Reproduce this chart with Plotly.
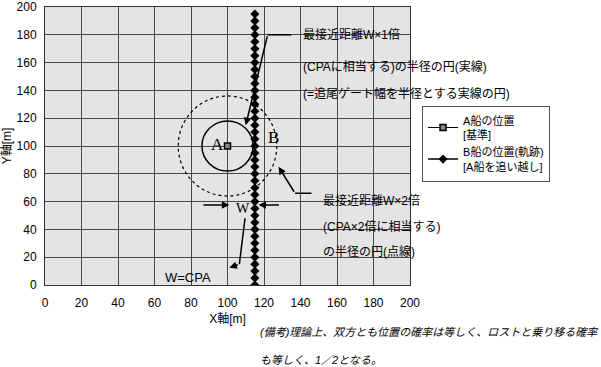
import plotly.graph_objects as go

# Data
a_x = [100]
a_y = [100]
b_x = [115] * 40
b_y = [0, 5, 10, 15, 20, 25, 30, 35, 40, 45, 50, 55, 60, 65, 70, 75, 80, 85, 90, 95,
       100, 105, 110, 115, 120, 125, 130, 135, 140, 145, 150, 155, 160, 165, 170, 175,
       180, 185, 190, 195]
ticks = [0, 20, 40, 60, 80, 100, 120, 140, 160, 180, 200]
circle_center = (100, 100)
solid_r = (14, 18)     # x,y radius in data units (round on paper)
dotted_r = (27, 36)

FONT = "Liberation Sans, Arial, Noto Sans CJK JP, sans-serif"
SERIF = "Liberation Serif, Times New Roman, serif"

fig = go.Figure()
fig.add_trace(go.Scatter(
    x=a_x, y=a_y, mode="lines+markers", name="A船の位置<br>[基準]",
    line=dict(color="black", width=1),
    marker=dict(symbol="square", size=6, color="#888888", line=dict(color="black", width=1.5)),
))
fig.add_trace(go.Scatter(
    x=b_x, y=b_y, mode="lines+markers", name="B船の位置(軌跡)<br>[A船を追い越し]",
    line=dict(color="black", width=1.5),
    marker=dict(symbol="diamond", size=7, color="black"),
))

cx, cy = circle_center
fig.add_shape(type="circle", xref="x", yref="y",
              x0=cx - solid_r[0], x1=cx + solid_r[0], y0=cy - solid_r[1], y1=cy + solid_r[1],
              line=dict(color="black", width=1.5))
fig.add_shape(type="circle", xref="x", yref="y",
              x0=cx - dotted_r[0], x1=cx + dotted_r[0], y0=cy - dotted_r[1], y1=cy + dotted_r[1],
              line=dict(color="black", width=1.2, dash="dot"))

# leader lines
def poly(pts, w=1.5):
    path = "M " + " L ".join(f"{x},{y}" for x, y in pts)
    fig.add_shape(type="path", path=path, xref="x", yref="y",
                  line=dict(color="black", width=w))

def arrow(x0, y0, x1, y1):
    fig.add_annotation(x=x1, y=y1, ax=x0, ay=y0, xref="x", yref="y", axref="x", ayref="y",
                       showarrow=True, arrowhead=2, arrowsize=1, arrowwidth=1.5,
                       arrowcolor="black", text="")

poly([(135, 180), (122, 180)])
arrow(122, 180, 110, 115)
poly([(146, 66), (137, 66)])
arrow(137, 66, 128, 85)
arrow(86, 57.5, 101, 57.5)
arrow(129, 57.5, 117, 57.5)
poly([(109.6, 48), (106.5, 15)])
arrow(106.5, 15, 101, 12.5)

def txt(x, y, s, size=12, family=FONT, xanchor="left"):
    fig.add_annotation(x=x, y=y, xref="x", yref="y", text=s, showarrow=False,
                       font=dict(family=family, size=size, color="black"),
                       xanchor=xanchor, yanchor="middle")

txt(94.5, 101, "A", size=17, family=SERIF, xanchor="center")
txt(125, 106, "B", size=17, family=SERIF, xanchor="center")
txt(108.5, 55, "W", size=14, family=SERIF, xanchor="center")
txt(78.5, 5.5, "W=CPA", size=13, xanchor="center")

txt(140.5, 180.5, "最接近距離W×1倍")
txt(140.5, 157, "(CPAに相当する)の半径の円(実線)")
txt(140.5, 138, "(=追尾ゲート幅を半径とする実線の円)")
txt(151.5, 61, "最接近距離W×2倍")
txt(151.5, 42, "(CPA×2倍に相当する)")
txt(151.5, 24, "の半径の円(点線)")

for yy, s in [(-0.169, "(備考)理論上、双方とも位置の確率は等しく、ロストと乗り移る確率"),
              (-0.27, "も等しく、1／2となる。")]:
    fig.add_annotation(x=0.5836, y=yy, xref="paper", yref="paper", text=f"<i>{s}</i>",
                       showarrow=False, font=dict(family=FONT, size=11, color="black"),
                       xanchor="left", yanchor="middle")

fig.update_layout(
    width=601, height=367,
    margin=dict(l=45, r=191, t=7, b=82, autoexpand=False),
    paper_bgcolor="white", plot_bgcolor="#e4e4e4",
    font=dict(family=FONT, size=11, color="black"),
    showlegend=True,
    legend=dict(x=1.033, y=0.645, xanchor="left", yanchor="top",
                bgcolor="white", bordercolor="#555555", borderwidth=1,
                font=dict(size=11), tracegroupgap=0, itemwidth=30),
)
fig.update_xaxes(range=[0, 200], tickvals=ticks, showgrid=True, gridcolor="#484848", gridwidth=1,
                 zeroline=False, showline=True, linecolor="#333333", mirror=True,
                 ticks="", ticklen=0, tickfont=dict(size=12), automargin=False,
                 ticklabelstandoff=7,
                 title=dict(text="X軸[m]", font=dict(size=12), standoff=5))
fig.update_yaxes(range=[0, 200], tickvals=ticks, showgrid=True, gridcolor="#484848", gridwidth=1,
                 zeroline=False, showline=True, linecolor="#333333", mirror=True,
                 ticks="", tickfont=dict(size=12), automargin=False,
                 ticklabelstandoff=5,
                 title=dict(text="Y軸[m]", font=dict(size=12), standoff=4))

fig.write_html("out.html", config={"displayModeBar": False},
               post_script="document.body.style.margin='0';document.body.style.overflow='hidden';")
